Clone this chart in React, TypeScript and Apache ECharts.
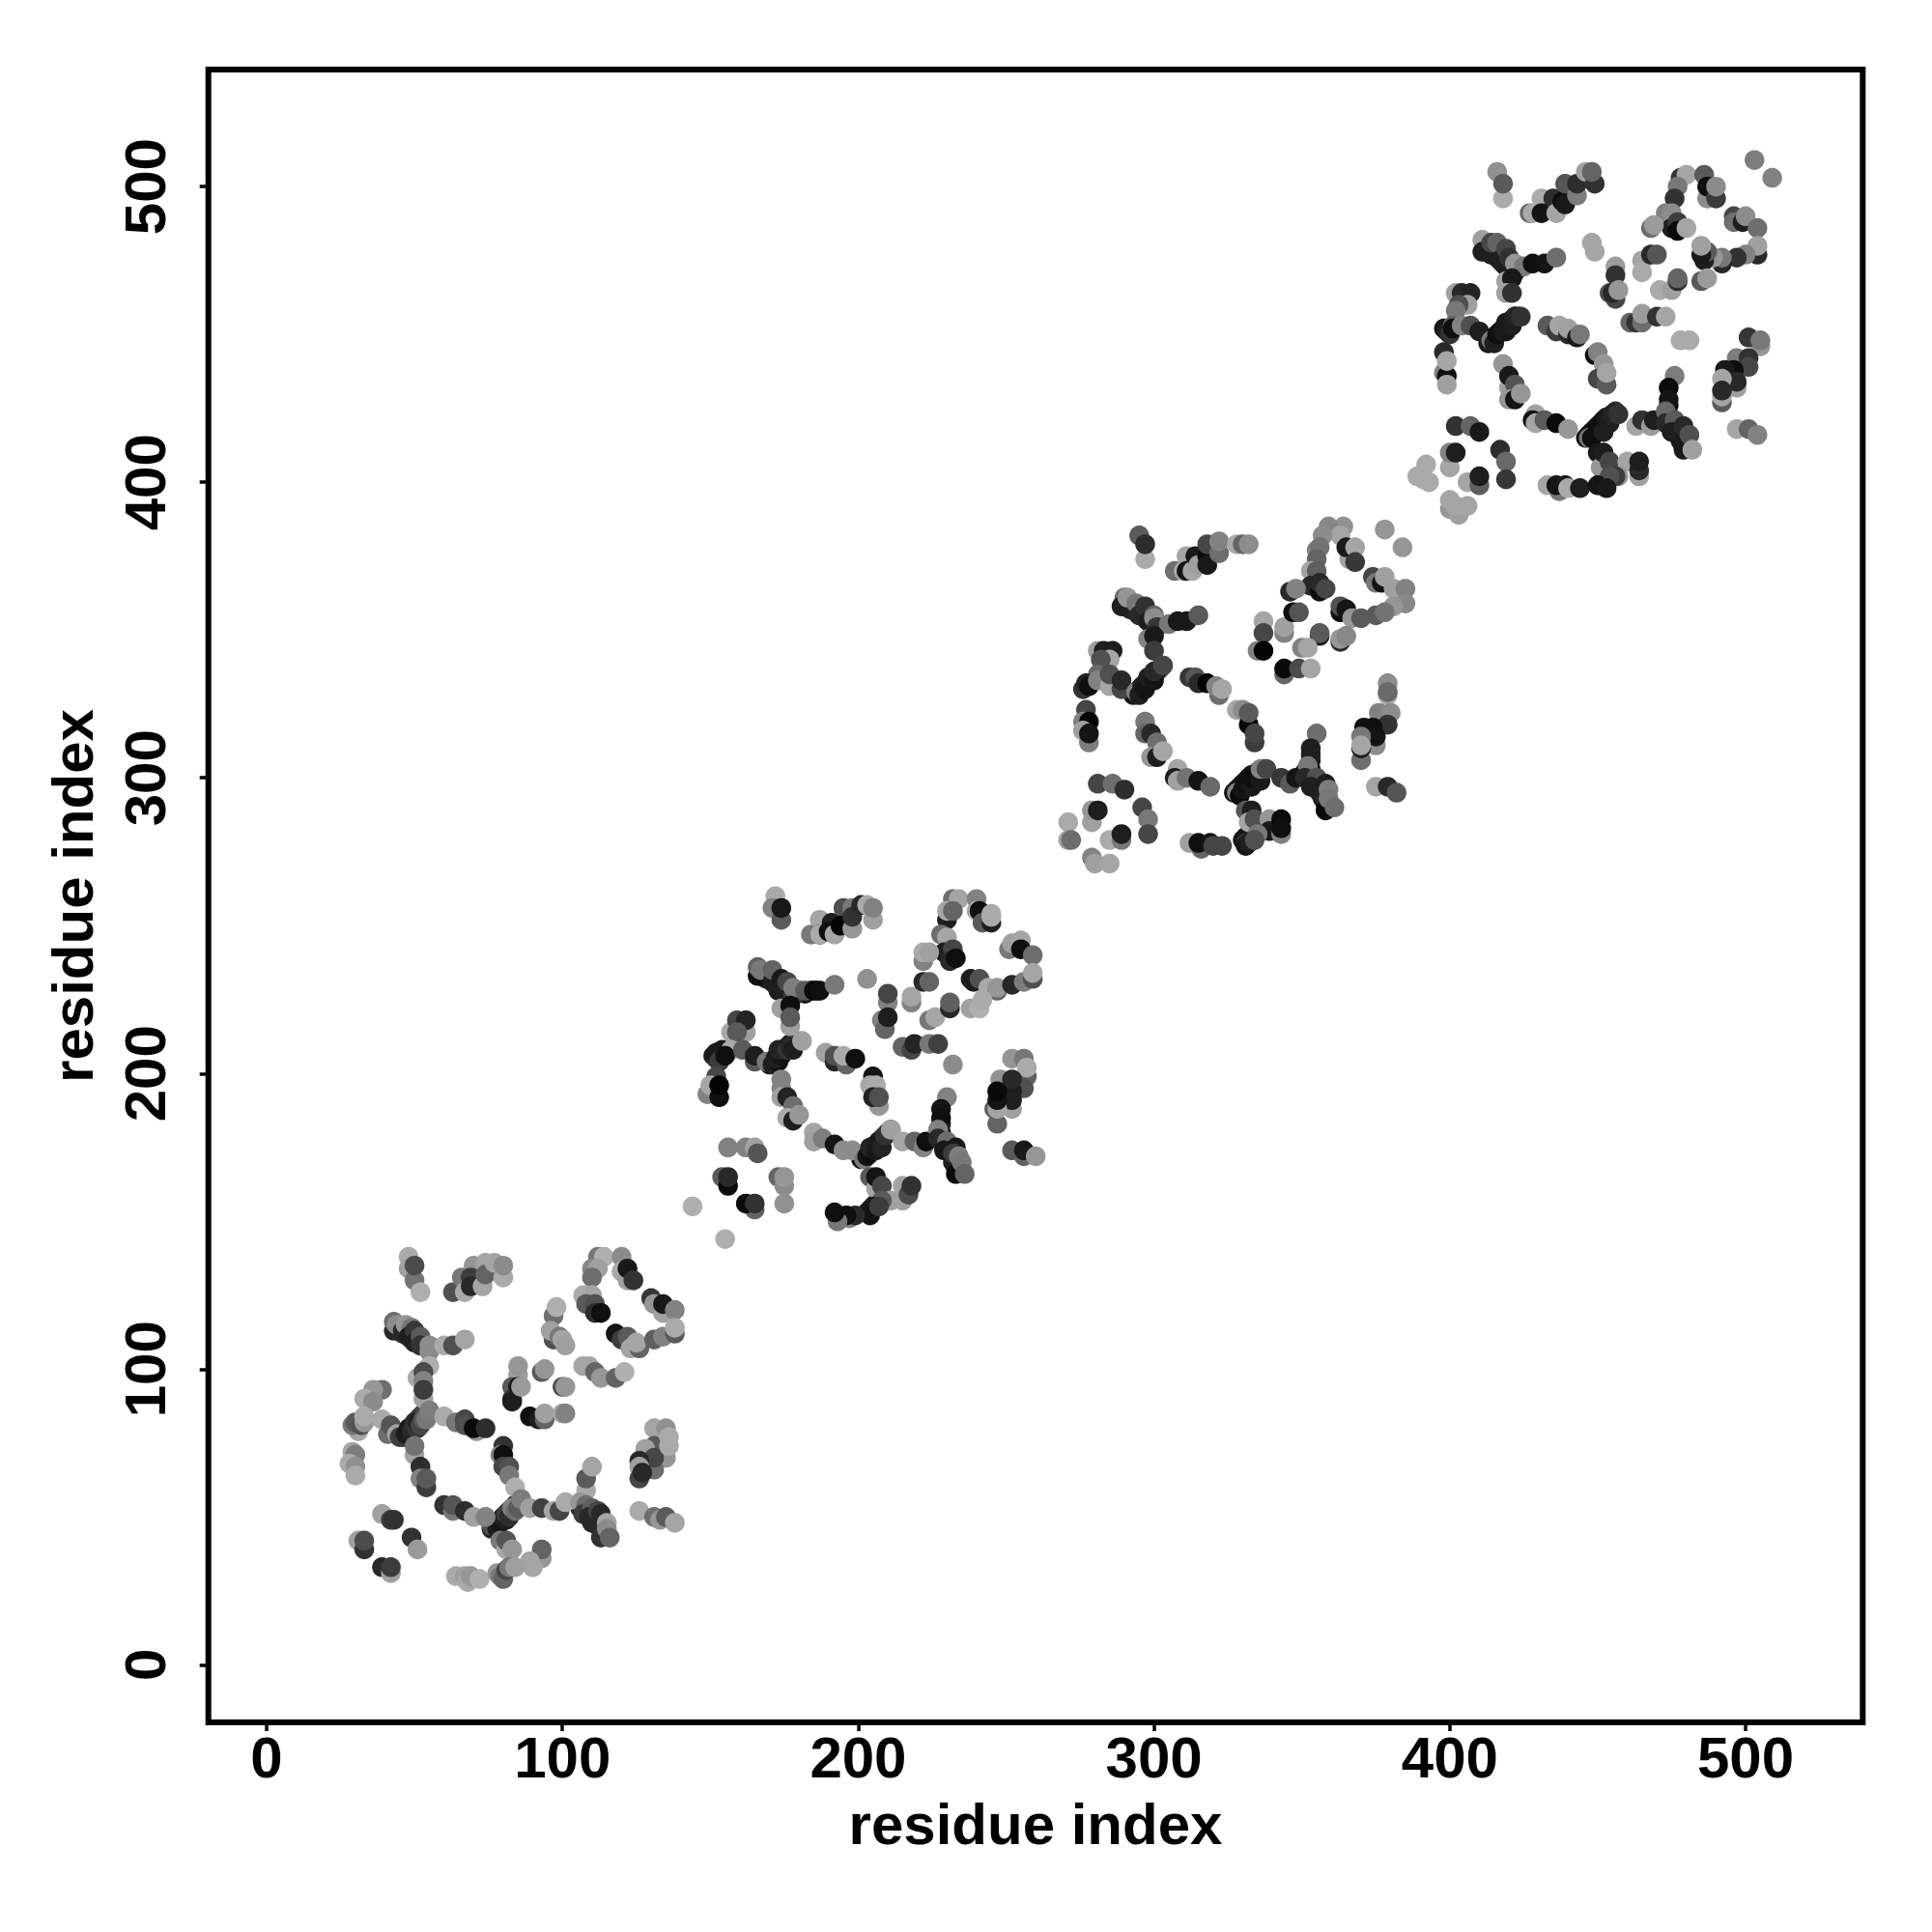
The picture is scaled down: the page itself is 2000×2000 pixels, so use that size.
import React, { useEffect, useRef } from "react";
import * as echarts from "echarts";

// [residue x, residue y, grey level]
const backboneContacts: number[][] = [
[46,77,45],[47,78,45],[48,79,45],[49,80,45],[50,82,45],[51,83,45],[52,84,50],[53,85,60],[54,86,70],
[76,46,35],[77,47,35],[78,48,35],[79,49,30],[80,50,30],[81,51,30],[82,52,35],[83,53,40],[84,54,50],[85,55,60],[86,56,80],
[45,113,50],[46,112,50],[47,112,50],[48,111,50],[49,110,50],[50,110,50],[51,109,50],[52,108,60],
[106,53,50],[107,52,40],[108,51,40],[109,50,40],[110,49,40],[111,48,40],[112,47,40],[113,46,50],[114,45,60],
[170,203,25],[171,204,25],[172,205,25],[173,206,25],[174,207,25],[175,208,25],[176,209,25],[177,210,30],[178,210,30],[179,211,40],
[167,233,35],[168,233,35],[169,232,35],[170,232,35],[171,231,35],[172,230,35],[173,229,35],[174,229,35],[175,228,35],[176,227,35],
[180,228,30],[182,227,25],[184,228,25],[186,228,25],
[201,171,20],[202,172,20],[203,173,20],[204,174,20],[205,175,20],[206,176,20],[207,177,20],[208,178,25],[209,179,30],[210,180,40],[211,181,60],
[227,178,30],[228,177,30],[229,176,30],[230,175,30],[231,174,30],[232,172,30],[232,170,30],[233,168,30],[228,183,30],[228,180,30],
[203,153,25],[204,154,25],[205,155,25],[206,156,25],[207,157,30],[151,206,25],[152,207,25],[153,207,25],[154,208,25],[152,196,15],[152,194,15],
[293,328,25],[294,329,25],[295,330,25],[296,331,25],[297,332,25],[298,333,25],[299,334,25],[300,335,25],[301,336,30],[302,337,40],[303,338,60],
[290,358,40],[291,358,40],[292,357,40],[293,357,40],[294,356,40],[295,355,40],[296,355,40],[297,354,40],[298,353,40],[299,352,40],[300,352,45],
[327,295,20],[328,296,20],[329,297,20],[330,298,20],[331,299,20],[332,300,20],[333,301,20],[334,301,25],[335,302,25],[336,302,30],[337,303,50],
[351,302,35],[352,301,35],[353,300,35],[354,298,35],[355,297,35],[356,295,35],[357,293,35],[358,291,35],[353,306,30],[353,303,30],
[330,279,20],[331,280,20],[332,281,20],[333,282,25],[334,283,30],
[413,447,25],[414,448,25],[415,449,25],[416,450,25],[417,451,25],[418,452,25],[419,453,25],[420,454,25],[421,455,25],[422,456,30],[423,456,40],
[412,478,30],[414,477,30],[415,477,30],[416,476,30],[417,475,30],[418,474,30],[419,473,30],[420,472,30],[421,471,30],[422,471,30],
[446,415,20],[447,416,20],[448,417,20],[449,418,20],[450,419,20],[451,420,20],[452,421,20],[453,422,25],[454,422,30],[455,423,35],[456,424,45],
[473,421,25],[474,420,25],[475,419,25],[476,417,25],[477,416,25],[478,414,25],[479,412,25],[474,426,20],
[451,399,25],[452,401,25],[453,402,25],[454,403,30]
];

const domainA: number[][] = [
[48,138,170],[48,134,160],[50,130,115],[50,135,75],[52,126,175],
[63,126,80],[66,131,120],[67,126,170],[70,135,150],[69,131,60],[69,128,40],[73,128,165],[74,136,165],[74,132,100],[77,136,165],[80,131,170],[80,135,140],
[112,138,120],[114,138,175],[110,134,135],[112,134,160],[110,131,110],[107,125,170],[110,125,165],[108,122,90],[111,122,80],[111,119,45],[113,119,15],
[120,138,140],[120,133,170],[122,130,160],[122,134,25],[124,130,50],[130,124,55],[131,122,150],[134,119,160],[134,122,25],[138,120,130],
[118,112,20],[120,110,60],[122,111,90],[123,107,165],[126,107,100],[125,109,165],[131,110,95],[134,111,130],[138,112,90],[138,114,170],
[97,118,110],[98,121,175],[97,110,80],[96,113,160],[99,111,120],[100,110,165],[101,108,160],
[107,101,165],[109,101,165],[111,99,100],[113,97,150],[118,97,100],[121,99,175],
[85,98,160],[85,101,150],[83,94,90],[83,90,60],[83,89,30],[85,94,25],[86,94,155],
[93,99,90],[94,100,150],[100,94,80],[101,94,150],[89,84,15],[92,83,30],[94,83,100],[94,85,160],[100,85,165],[101,85,130],
[43,113,40],[43,116,110],[44,115,140],[46,113,40],[47,115,150],[49,114,120],[48,111,30],[50,113,55],[50,109,30],[52,111,90],[52,108,50],[55,108,140],[55,106,140],
[60,108,170],[63,108,80],[67,110,165],[51,97,170],[55,101,175],[53,99,75],[53,96,130],[53,90,160],[53,93,60],
[39,93,110],[36,93,150],[33,90,170],[36,89,140],[31,79,165],[29,81,120],[30,82,90],[32,81,80],[33,82,150],[33,84,170],[39,83,170],[41,78,110],[42,81,85],
[44,78,160],[45,77,60],[47,78,30],[48,80,25],[49,79,40],[50,81,50],[51,80,55],[51,82,35],[52,81,70],[53,83,90],[54,83,120],[55,86,125],
[60,84,170],[64,82,120],[67,83,70],[67,81,80],[71,79,150],[70,80,10],[74,80,45],
[50,71,160],[50,74,115],[52,67,45],[52,63,130],[54,60,60],[54,63,90],
[29,72,165],[30,71,125],[28,68,170],[30,67,145],[30,64,170],
[39,51,160],[42,49,60],[43,49,50],[31,42,160],[33,39,50],[33,42,75],[49,43,50],[51,39,155],[39,33,40],[42,31,160],[42,33,60],
[64,30,170],[67,30,160],[68,28,170],[69,30,150],[72,29,175],
[80,74,50],[79,71,130],[80,71,15],[80,67,70],[82,67,80],[82,64,120],[84,60,175],
[76,47,80],[78,46,30],[79,48,20],[80,50,40],[81,49,30],[81,51,60],[82,50,45],[83,53,130],[84,52,110],[85,53,90],[86,56,125],
[60,54,50],[63,52,120],[63,54,85],[67,52,45],[70,50,160],[74,50,130],
[89,53,160],[93,53,65],[97,52,165],[99,52,70],[101,55,170],[108,59,170],[108,63,90],[110,67,165],
[106,55,150],[108,54,110],[107,51,60],[110,53,95],[109,50,40],[110,48,40],[112,52,70],[113,51,40],[115,48,165],[113,43,50],[115,46,140],[116,43,100],
[79,42,120],[81,39,170],[81,42,85],[83,39,150],[93,36,150],[93,39,100],[89,35,165],[90,33,165],
[78,31,150],[79,30,120],[80,29,100],[81,32,70],[82,33,120],[84,33,160],
[126,52,170],[131,50,110],[133,49,150],[135,50,90],[138,48,165],
[131,80,165],[135,80,145],[135,70,150],[131,74,90],[128,73,160],[131,66,110],[131,70,70],[136,74,170],[136,77,170],
[126,69,40],[126,67,160],[126,63,70],[127,65,40]
];

const domainB: number[][] = [
[172,260,170],[171,256,130],[174,252,90],[174,256,25],
[184,247,120],[187,252,165],[187,247,25],[187,247,170],[191,251,30],[190,248,15],[192,247,165],[195,256,80],[194,250,5],[198,256,120],[198,249,150],[198,253,50],[201,257,40],[203,257,170],[205,252,160],[205,256,130],
[232,259,110],[234,259,165],[230,252,30],[230,255,165],[232,255,100],[240,259,130],[240,255,170],[241,255,15],[242,251,90],[245,251,30],[245,254,170],[245,253,170],
[228,247,110],[230,246,165],[229,241,30],[232,242,70],[231,238,40],[233,239,15],
[251,242,120],[252,244,160],[255,245,165],[255,242,15],[259,240,110],
[238,232,30],[239,231,30],[241,232,80],[244,229,170],[247,228,100],[247,229,150],[252,230,40],[256,231,125],[259,232,80],[259,234,165],
[238,222,160],[241,222,175],[242,225,170],
[203,232,145],[210,224,130],[210,227,70],[208,218,130],[209,215,100],[210,219,30],
[222,238,130],[222,241,170],[224,241,160],[218,224,130],[218,226,165],[222,231,40],[224,231,100],
[224,218,120],[226,219,165],[231,222,40],[231,224,95],
[215,209,100],[218,208,70],[219,210,35],[224,210,120],[227,210,65],[232,203,140],
[166,233,15],[166,236,100],[167,235,120],[171,231,30],[171,235,100],[174,232,25],[173,228,30],[176,231,70],[178,226,60],[178,229,125],[182,228,90],[185,228,10],[187,228,15],[192,230,120],
[174,222,160],[177,223,15],[177,216,160],[177,219,90],
[157,214,170],[162,214,160],[159,218,70],[162,218,35],[159,214,90],
[157,208,170],[152,205,50],[152,206,25],[153,205,30],[153,204,60],[155,206,15],[161,208,90],[165,204,90],[165,206,30],
[152,199,70],[149,193,130],[150,196,165],[153,192,15],[153,196,5],
[169,204,120],[171,203,30],[173,204,15],[172,205,30],[174,206,20],[173,208,35],[176,208,50],[177,209,40],[178,208,30],[181,211,160],
[174,198,130],[174,195,130],[174,192,160],[176,192,35],[178,189,110],[176,185,170],[178,184,30],[180,186,150],
[189,207,160],[192,204,40],[192,206,80],[196,203,100],[195,206,170],[199,205,15],
[205,199,20],[204,196,165],[206,196,170],[207,189,150],[205,192,35],[207,192,80],
[156,175,130],[162,175,130],[165,175,160],[166,173,85],
[154,165,90],[156,162,10],[156,165,40],[173,165,100],[175,162,140],[175,165,150],[175,156,145],
[165,154,100],[162,156,10],[165,156,50],[144,155,175],[155,144,175],
[185,180,165],[185,177,160],[188,178,125],[192,176,20],[195,174,140],[198,174,140],
[202,171,120],[203,172,20],[204,173,15],[204,175,35],[206,174,25],[207,177,25],[208,175,35],[209,179,50],[211,181,160],
[215,177,165],[219,177,100],[222,175,130],[223,177,15],
[230,192,130],[228,188,20],[228,185,15],[227,181,130],[227,178,40],[230,177,110],[229,174,25],[233,175,25],[232,173,60],[233,166,10],[234,172,125],[235,170,120],[236,166,100],
[204,165,90],[206,161,165],[206,165,20],[208,162,70],
[215,162,165],[215,157,160],[211,157,160],[217,159,75],[218,162,50],
[208,157,90],[205,155,25],[204,152,20],[207,155,60],[197,151,130],[199,152,40],[196,152,15],[193,150,120],[192,153,15],
[252,174,90],[256,172,100],[256,174,25],[260,172,150],
[252,205,150],[256,205,120],[257,199,95],[256,195,80],[257,202,170],[248,198,145],[252,188,160],[252,191,30],[252,194,30],[252,198,40],
[247,183,100],[246,188,90],[247,188,165],[247,191,20],[247,194,10]
];

const domainC: number[][] = [
[295,382,90],[297,374,170],[297,379,45],
[307,370,110],[310,370,170],[311,375,165],[311,370,20],[313,370,165],[314,375,25],[315,372,160],[318,375,10],[318,372,25],[318,379,70],[322,376,110],[322,380,130],[328,379,170],[330,379,100],[332,379,140],
[364,385,145],[359,385,135],[363,382,165],[357,382,140],[355,377,130],[356,378,115],[355,374,100],[378,384,150],[384,378,150],
[366,374,160],[365,378,25],[368,378,165],[368,373,55],
[353,370,165],[355,370,95],[353,365,40],[356,363,15],[356,366,40],[358,364,70],[346,363,40],[348,364,130],
[374,368,70],[375,366,120],[377,366,20],[378,368,160],[381,364,160],[385,364,130],[385,359,135],[381,358,150],
[363,356,15],[363,358,80],[365,357,20],[367,354,150],[370,354,90],[375,355,90],[378,356,115],
[356,348,30],[356,349,90],[350,344,130],[352,344,165],[363,346,40],[363,347,150],[365,348,135],
[337,353,165],[337,349,70],[335,343,130],[337,343,5],[344,349,130],[344,351,160],[347,356,15],[349,356,85],
[344,335,100],[344,337,10],[349,337,75],[353,337,165],
[290,361,110],[289,358,30],[291,361,150],[294,359,120],[295,355,40],[297,358,50],[298,353,30],[300,355,100],[300,354,140],[301,351,55],[305,352,120],[308,353,25],[311,353,25],[315,355,90],
[298,347,130],[300,348,25],[300,343,60],
[281,343,160],[283,343,30],[286,343,30],[285,340,165],[282,340,80],[281,335,105],[276,330,50],[277,332,35],[278,331,15],[281,333,130],[285,331,165],[285,335,80],[289,330,70],[289,333,40],
[277,323,70],[276,319,130],[278,319,5],[276,316,160],[278,312,125],[278,315,20],
[294,329,130],[295,328,30],[296,331,30],[297,330,20],[298,334,30],[300,333,20],[300,336,40],[303,338,70],
[297,319,120],[297,315,100],[299,315,40],[301,312,110],[299,307,150],[301,307,30],[303,309,165],
[312,334,55],[314,334,85],[315,332,40],[318,332,5],[322,328,110],[321,331,130],[323,330,165],
[328,323,165],[330,323,140],[332,318,10],[332,322,90],[334,312,60],[334,315,70],
[281,298,70],[286,298,110],[290,296,45],
[279,285,160],[279,289,150],[281,289,30],[296,290,70],[298,286,120],[298,281,70],
[285,279,170],[289,279,120],[289,281,30],
[271,285,170],[271,279,160],[272,279,110],[279,273,130],[280,271,160],[285,271,165],
[312,278,160],[316,276,100],[315,278,15],[319,278,20],[320,277,70],[323,277,70],
[308,303,165],[307,300,30],[308,299,160],[311,300,115],[315,299,20],[319,297,105],
[328,295,130],[329,294,10],[330,296,20],[331,298,15],[333,297,25],[333,300,15],[336,299,25],[336,303,130],[338,303,70],
[343,300,55],[346,298,90],[348,300,20],
[355,315,110],[353,310,30],[353,308,30],[352,304,120],[351,300,40],[355,300,80],[353,297,30],[358,298,30],[358,289,10],[359,296,125],[359,293,120],[361,290,110],
[331,289,85],[333,289,30],[332,285,165],[334,286,80],
[339,286,150],[339,282,25],[343,281,130],[343,286,10],[343,283,15],
[335,281,120],[331,278,50],[331,277,20],[332,278,30],[334,279,80],
[375,297,165],[379,297,40],[382,295,85],
[379,328,170],[379,332,140],[379,329,105],[376,322,130],[380,322,140],[375,311,140],[379,318,50],[374,317,15],[371,317,15],[375,314,20],
[370,306,110],[370,314,120],[370,310,30],[370,311,165]
];

const domainD: number[][] = [
[416,505,145],[418,496,170],[418,501,90],
[427,491,100],[428,491,170],[431,496,170],[431,491,20],[435,496,45],[436,491,165],[438,495,15],[439,501,85],[439,494,25],[443,497,125],[443,501,45],[446,505,160],[449,501,50],[448,505,100],
[478,503,55],[480,504,165],[477,500,120],[476,496,50],[486,504,90],[487,496,140],[487,500,15],[490,496,60],[490,500,140],
[503,509,125],[509,503,130],
[473,491,130],[475,491,140],[475,486,30],[477,488,60],[477,485,10],[480,486,165],[468,486,110],[469,487,155],
[496,490,70],[496,488,110],[499,488,30],[500,490,140],[504,486,110],
[504,477,40],[504,480,160],[500,477,130],[497,476,50],[492,474,40],[492,476,120],[489,476,150],[486,475,30],[487,478,90],[485,477,25],[485,480,160],
[485,468,90],[487,469,155],
[448,481,165],[449,478,165],
[456,473,155],[456,470,50],[454,464,85],[456,462,70],[455,464,40],[457,465,150],
[465,475,165],[465,471,170],[468,477,40],[470,477,85],
[471,465,170],[475,465,160],[477,468,45],[477,469,100],
[461,454,100],[463,454,50],[465,454,110],[465,457,155],[470,456,50],[473,456,165],
[478,448,170],[481,448,170],
[411,482,160],[411,478,30],[414,481,70],[416,481,100],[418,476,30],[419,479,70],[420,476,50],[422,471,35],[422,474,150],[425,473,120],[428,474,15],[432,474,20],[436,476,110],
[419,468,165],[421,469,25],[419,464,160],[421,464,50],
[402,464,160],[404,464,40],[407,464,35],[406,460,160],[403,460,80],[402,458,120],
[398,452,20],[399,451,30],[400,450,50],[401,453,100],[401,452,15],[404,453,130],[407,453,80],[410,451,30],
[398,444,40],[398,437,130],[399,436,15],[399,441,165],[399,433,160],
[414,448,120],[415,447,30],[416,450,15],[418,451,25],[419,451,25],[419,454,25],[421,453,30],[422,456,35],[424,456,50],
[418,440,150],[420,432,160],[420,436,25],[422,433,85],[420,428,150],[422,428,20],[424,430,150],
[433,453,90],[436,451,60],[437,453,165],[440,450,40],[440,452,160],[443,449,25],[444,450,120],
[449,443,15],[450,444,130],[452,440,150],[450,435,70],[453,433,90],[453,437,165],
[402,419,50],[407,419,100],[410,417,25],
[400,405,165],[400,410,130],[402,410,30],[417,411,45],[419,407,105],[419,401,55],
[406,400,165],[410,399,95],[410,402,30],
[389,402,170],[392,406,170],[391,401,170],[393,400,170],
[400,391,150],[403,389,160],[400,394,165],[402,392,165],[406,392,165],
[433,399,165],[437,397,120],[436,399,20],[439,399,25],[440,398,170],[444,398,30],
[429,423,160],[428,421,20],[429,420,165],[432,421,90],[436,420,10],[440,418,150],
[447,415,120],[448,415,15],[450,418,15],[452,417,30],[453,421,25],[454,420,30],[455,423,35],[457,423,50],
[463,419,165],[465,421,50],[468,419,155],[469,421,30],
[476,436,125],[474,432,10],[474,428,20],[473,424,105],[473,420,40],[476,421,90],[475,417,30],[479,419,40],[479,411,25],[481,416,80],[482,411,160],
[450,410,25],[451,405,150],[452,410,30],[454,407,70],
[460,407,165],[464,402,160],[464,404,40],[464,407,30],
[457,402,150],[456,402,60],[454,402,80],[450,399,20],[453,398,25],
[497,418,165],[501,418,100],[504,416,130],
[505,446,150],[501,449,55],[505,448,120],[497,442,125],[501,442,50],[501,439,70],[496,438,15],[493,438,25],[497,432,160],[497,434,40],
[492,427,90],[492,435,165],[492,429,165],[492,431,40]
];

const tickValues = [0, 100, 200, 300, 400, 500];
const axisTitle = "residue index";
const fontFamily = "'Liberation Sans', Arial, sans-serif";

function axis(nameGap: number, margin: number, rotate: number, min: number, max: number) {
  return {
    type: "value",
    min,
    max,
    name: axisTitle,
    nameLocation: "middle",
    nameGap,
    nameTextStyle: { color: "#000", fontFamily, fontWeight: "bold", fontSize: 60 },
    splitLine: { show: false },
    axisLine: { show: false, onZero: false },
    axisTick: { show: true, inside: false, length: 9, customValues: tickValues, lineStyle: { color: "#000", width: 3.5 } },
    axisLabel: {
      show: true,
      customValues: tickValues,
      rotate,
      margin,
      color: "#000",
      fontFamily,
      fontWeight: "bold",
      fontSize: 60,
      showMinLabel: true,
      showMaxLabel: true,
      hideOverlap: false,
    },
  };
}

export default function App() {
  const ref = useRef<HTMLDivElement>(null);
  useEffect(() => {
    document.body.style.margin = "0";
    const chart = echarts.init(ref.current!, undefined, { renderer: "svg" });
    const points = [...backboneContacts, ...domainA, ...domainB, ...domainC, ...domainD];
    chart.setOption({
      animation: false,
      backgroundColor: "#fff",
      grid: {
        left: 215.7, right: 71.7, top: 72, bottom: 217,
        show: true, borderColor: "#000", borderWidth: 6, backgroundColor: "transparent",
      },
      xAxis: axis(75, 6, 0, -19.7, 539.6),
      yAxis: axis(110, 35, 90, -19.5, 539.6),
      series: [
        {
          type: "scatter",
          symbol: "circle",
          symbolSize: 20.5,
          data: points,
          large: false,
          itemStyle: {
            opacity: 1,
            color: (p: any) => {
              const g = p.value[2];
              return `rgb(${g},${g},${g})`;
            },
          },
        },
      ],
    });
    return () => chart.dispose();
  }, []);
  return <div ref={ref} style={{ position: "absolute", left: 0, top: 0, width: 2000, height: 2000 }} />;
}
